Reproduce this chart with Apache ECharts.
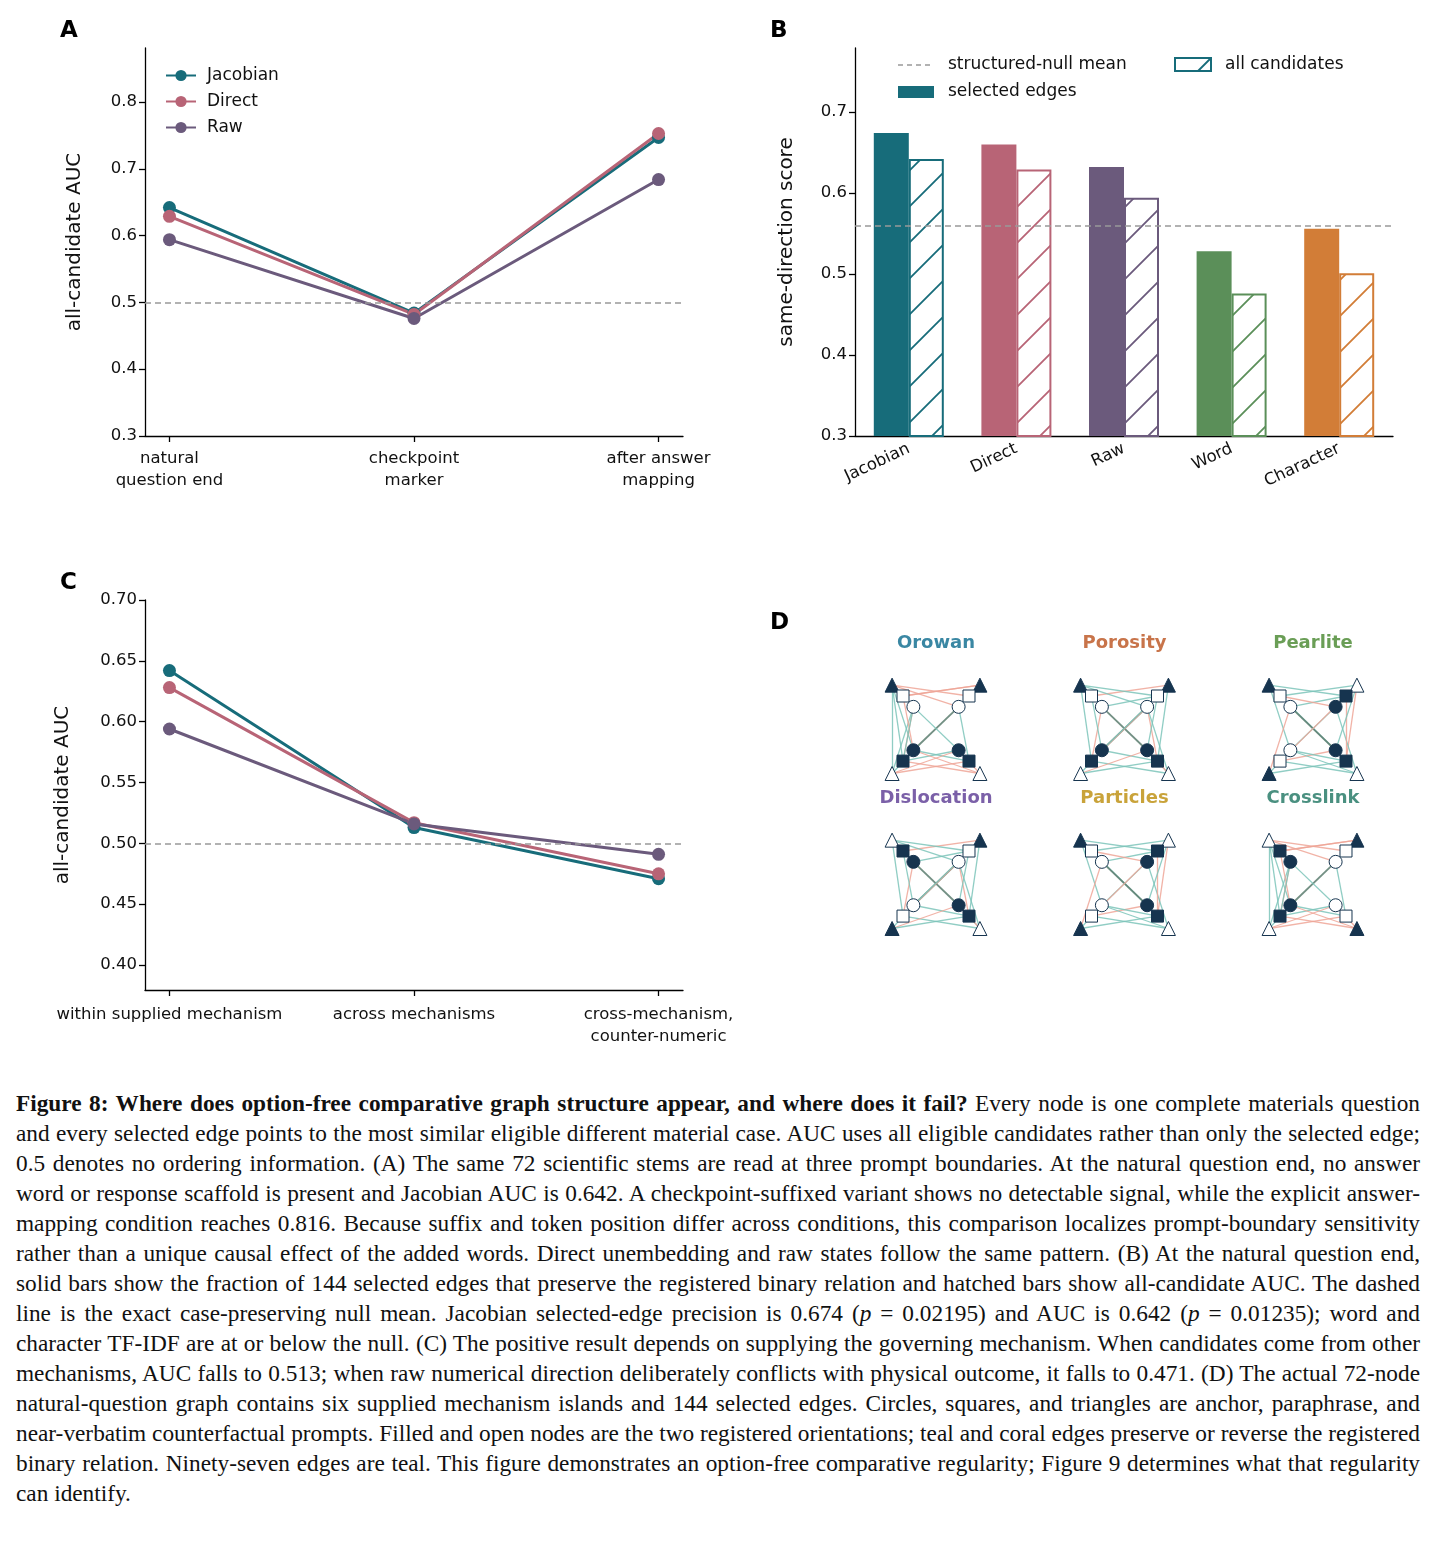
<!DOCTYPE html>
<html><head><meta charset="utf-8">
<script src="https://cdn.jsdelivr.net/npm/echarts@6/dist/echarts.min.js"></script>
<style>
body{margin:0;background:#fff;}
#chart{width:1440px;height:1080px;}
#cap{position:absolute;left:16px;top:1088px;width:1404px;font-family:"Liberation Serif",serif;font-size:23.3px;line-height:30px;text-align:justify;color:#111;}
</style></head><body>
<div id="chart"></div>
<div id="cap"><b>Figure 8: Where does option-free comparative graph structure appear, and where does it fail?</b> Every node is one complete materials question and every selected edge points to the most similar eligible different material case. AUC uses all eligible candidates rather than only the selected edge; 0.5 denotes no ordering information. (A) The same 72 scientific stems are read at three prompt boundaries. At the natural question end, no answer word or response scaffold is present and Jacobian AUC is 0.642. A checkpoint-suffixed variant shows no detectable signal, while the explicit answer-mapping condition reaches 0.816. Because suffix and token position differ across conditions, this comparison localizes prompt-boundary sensitivity rather than a unique causal effect of the added words. Direct unembedding and raw states follow the same pattern. (B) At the natural question end, solid bars show the fraction of 144 selected edges that preserve the registered binary relation and hatched bars show all-candidate AUC. The dashed line is the exact case-preserving null mean. Jacobian selected-edge precision is 0.674 (<i>p</i> = 0.02195) and AUC is 0.642 (<i>p</i> = 0.01235); word and character TF-IDF are at or below the null. (C) The positive result depends on supplying the governing mechanism. When candidates come from other mechanisms, AUC falls to 0.513; when raw numerical direction deliberately conflicts with physical outcome, it falls to 0.471. (D) The actual 72-node natural-question graph contains six supplied mechanism islands and 144 selected edges. Circles, squares, and triangles are anchor, paraphrase, and near-verbatim counterfactual prompts. Filled and open nodes are the two registered orientations; teal and coral edges preserve or reverse the registered binary relation. Ninety-seven edges are teal. This figure demonstrates an option-free comparative regularity; Figure 9 determines what that regularity can identify.</div>
<script>
var chart = echarts.init(document.getElementById('chart'));

// panel A
var boundaries = ['natural\nquestion end', 'checkpoint\nmarker', 'after answer\nmapping'];
var aJacobian = [0.642, 0.484, 0.747];
var aDirect = [0.629, 0.482, 0.753];
var aRaw = [0.594, 0.476, 0.684];
// panel B
var methods = ['Jacobian', 'Direct', 'Raw', 'Word', 'Character'];
var selectedEdges = [0.674, 0.660, 0.632, 0.528, 0.556];
var allCandidates = [0.642, 0.629, 0.594, 0.476, 0.501];
var nullMean = 0.555;
// panel C
var pools = ['within supplied mechanism', 'across mechanisms', 'cross-mechanism,\ncounter-numeric'];
var cJacobian = [0.642, 0.513, 0.471];
var cDirect = [0.628, 0.517, 0.475];
var cRaw = [0.594, 0.516, 0.491];
// panel D
var islands = ['Orowan', 'Porosity', 'Pearlite', 'Dislocation', 'Particles', 'Crosslink'];
var islandColors = ['#3a87a3', '#c8744a', '#6a9e56', '#7b60a8', '#c9a33a', '#4a9080'];
// node roles: TL/TR/BL/BR triangle, square, circle
var nodeShapes = ['triangle','triangle','triangle','triangle','rect','rect','rect','rect','circle','circle','circle','circle'];
var nodeDx = [-0.233, 0.233, -0.233, 0.233, -0.175, 0.175, -0.175, 0.175, -0.12, 0.12, -0.12, 0.12];
var nodeDy = [-0.27, -0.27, 0.30, 0.30, -0.2, -0.2, 0.22, 0.22, -0.13, -0.13, 0.15, 0.15];
var filled = [
  [1,1,0,0, 0,0,1,1, 0,0,1,1],
  [1,1,0,0, 0,0,1,1, 0,0,1,1],
  [1,0,1,0, 0,1,0,1, 0,1,0,1],
  [0,1,1,0, 1,0,0,1, 1,0,0,1],
  [1,0,1,0, 0,1,0,1, 0,1,0,1],
  [0,1,0,1, 1,0,1,0, 1,0,1,0]
];
// edges [source, target, kind]  kind: 0 teal, 1 coral, 2 dark
var edgesA = [[0,6,0],[0,2,0],[0,10,0],[8,6,1],[8,2,0],[4,10,1],[4,1,1],[0,5,1],[0,9,1],[1,4,1],[9,10,2],[8,11,0],[6,11,0],[10,7,0],[6,3,1],[2,7,1],[2,11,1],[10,3,1],[6,8,0],[1,5,0],[5,9,0],[3,11,1],[7,9,0],[2,10,0]];
var edgesB = [[0,6,0],[0,4,1],[8,11,2],[9,10,2],[8,6,1],[4,1,1],[5,0,0],[1,5,0],[1,7,0],[9,7,1],[5,11,0],[3,7,0],[6,3,0],[10,7,0],[2,6,0],[2,11,1],[4,10,0],[3,9,0],[0,9,0],[8,5,0],[6,9,1],[2,7,0],[10,1,0],[11,3,1]];
var edgesC = [[0,4,0],[0,10,0],[4,11,0],[8,11,2],[9,10,0],[1,9,0],[5,6,1],[1,7,1],[0,5,0],[4,1,0],[2,6,0],[2,7,0],[3,6,0],[6,11,1],[10,7,0],[8,5,0],[2,8,1],[3,9,0],[5,7,1],[6,10,0],[1,11,0],[4,9,1],[3,10,0],[7,11,0]];
var islandEdges = [edgesA, edgesB, edgesC, edgesB, edgesC, edgesA];
var edgeColors = ['#7cc4ba', '#eea698', '#5b7d6e'];

function hatch(color) {
  var c = document.createElement('canvas');
  c.width = 36; c.height = 36;
  var g = c.getContext('2d');
  g.fillStyle = '#fff'; g.fillRect(0, 0, 36, 36);
  g.strokeStyle = color; g.lineWidth = 1.8;
  g.beginPath();
  g.moveTo(-4, 40); g.lineTo(40, -4);
  g.moveTo(-22, 22); g.lineTo(22, -22);
  g.moveTo(14, 58); g.lineTo(58, 14);
  g.stroke();
  return {image: c, repeat: 'repeat'};
}

var colJ = '#176c7a', colD = '#b86476', colR = '#6b5a7c';
var barColors = ['#176c7a', '#b86476', '#6b5a7c', '#5b8f59', '#d27d37'];
var font = 'DejaVu Sans';
var axisLine = {onZero: false, lineStyle: {color: '#000', width: 1.3}};
var axisTick = {length: 6, lineStyle: {color: '#000', width: 1.3}};
var lbl = {color: '#111', fontSize: 16.5, fontFamily: font};
var nullLine = function (v) {
  return {silent: true, symbol: 'none', label: {show: false},
    lineStyle: {color: '#999', type: [6, 4], width: 1.5}, data: [{yAxis: v}]};
};
function lineSeries(name, vals, color, xi, ml) {
  var s = {name: name, type: 'line', xAxisIndex: xi, yAxisIndex: xi,
    data: vals.map(function (v, i) { return [i, v]; }),
    symbol: 'circle', symbolSize: 13, color: color,
    lineStyle: {width: 3, color: color}, itemStyle: {color: color}, z: 3};
  if (ml) s.markLine = nullLine(0.5);
  return s;
}

var dNodes = [], dLinks = [];
islands.forEach(function (name, k) {
  var cx = k % 3, cy = Math.floor(k / 3);
  var base = dNodes.length;
  nodeShapes.forEach(function (sh, i) {
    var f = filled[k][i];
    dNodes.push({value: [cx + nodeDx[i], cy + nodeDy[i]], symbol: sh,
      symbolSize: sh === 'triangle' ? 14 : (sh === 'rect' ? 12 : 13),
      itemStyle: {color: f ? '#16344f' : '#fff', borderColor: '#16344f', borderWidth: 1}});
  });
  islandEdges[k].forEach(function (e) {
    dLinks.push({source: base + e[0], target: base + e[1],
      lineStyle: {color: edgeColors[e[2]], width: e[2] === 2 ? 1.8 : 1.3, opacity: 0.85}});
  });
});

var graphic = [];
[['A', 60, 20], ['B', 770, 20], ['C', 60, 572], ['D', 770, 612]].forEach(function (p) {
  graphic.push({type: 'text', left: p[1], top: p[2], style: {text: p[0], font: 'bold 23px ' + font, fill: '#000'}});
});
islands.forEach(function (name, k) {
  graphic.push({type: 'text', x: 936 + (k % 3) * 188.5, y: 643 + Math.floor(k / 3) * 155,
    style: {text: name, font: 'bold 18px ' + font, fill: islandColors[k], align: 'center', verticalAlign: 'middle'}});
});
graphic.push(
  {type: 'line', shape: {x1: 898, y1: 65, x2: 934, y2: 65}, style: {stroke: '#999', lineWidth: 1.5, lineDash: [5, 4]}},
  {type: 'text', x: 948, y: 65, style: {text: 'structured-null mean', font: '17px ' + font, fill: '#111', verticalAlign: 'middle'}},
  {type: 'rect', shape: {x: 898, y: 86, width: 36, height: 12}, style: {fill: colJ}},
  {type: 'text', x: 948, y: 92, style: {text: 'selected edges', font: '17px ' + font, fill: '#111', verticalAlign: 'middle'}},
  {type: 'rect', shape: {x: 1175, y: 58, width: 36, height: 13}, style: {fill: '#fff', stroke: colJ, lineWidth: 2}},
  {type: 'line', shape: {x1: 1198, y1: 71, x2: 1210, y2: 59}, style: {stroke: colJ, lineWidth: 1.8}},
  {type: 'text', x: 1225, y: 65, style: {text: 'all candidates', font: '17px ' + font, fill: '#111', verticalAlign: 'middle'}}
);

var option = {
  animation: false,
  textStyle: {fontFamily: font},
  graphic: graphic,
  legend: {data: ['Jacobian', 'Direct', 'Raw'], orient: 'vertical', left: 160, top: 62, itemGap: 9,
    itemWidth: 30, itemHeight: 14, textStyle: {fontSize: 17, color: '#111', fontFamily: font, padding: [0, 0, 0, 6]}},
  grid: [
    {left: 145, top: 48, width: 538, height: 388},
    {left: 855, top: 48, width: 538, height: 388},
    {left: 145, top: 600, width: 538, height: 390},
    {left: 841.75, top: 649.5, width: 565.5, height: 310}
  ],
  xAxis: [
    {gridIndex: 0, type: 'value', min: -0.1, max: 2.1, splitLine: {show: false}, axisLine: axisLine, axisTick: Object.assign({customValues: [0, 1, 2]}, axisTick),
      axisLabel: Object.assign({customValues: [0, 1, 2], formatter: function (v) { return boundaries[v]; }, lineHeight: 22, margin: 12}, lbl)},
    {gridIndex: 1, type: 'category', data: methods, axisLine: axisLine, axisTick: Object.assign({alignWithLabel: true}, axisTick),
      axisLabel: Object.assign({rotate: 25, margin: 12, interval: 0}, lbl)},
    {gridIndex: 2, type: 'value', min: -0.1, max: 2.1, splitLine: {show: false}, axisLine: axisLine, axisTick: Object.assign({customValues: [0, 1, 2]}, axisTick),
      axisLabel: Object.assign({customValues: [0, 1, 2], formatter: function (v) { return pools[v]; }, lineHeight: 22, margin: 14}, lbl)},
    {gridIndex: 3, type: 'value', min: -0.5, max: 2.5, show: false}
  ],
  yAxis: [
    {gridIndex: 0, type: 'value', min: 0.3, max: 0.881, splitLine: {show: false}, axisLine: Object.assign({show: true}, axisLine),
      axisTick: Object.assign({show: true, customValues: [0.3, 0.4, 0.5, 0.6, 0.7, 0.8]}, axisTick),
      axisLabel: Object.assign({customValues: [0.3, 0.4, 0.5, 0.6, 0.7, 0.8], formatter: function (v) { return v.toFixed(1); }}, lbl),
      name: 'all-candidate AUC', nameLocation: 'middle', nameGap: 60, nameTextStyle: {fontSize: 20, color: '#111', fontFamily: font}},
    {gridIndex: 1, type: 'value', min: 0.3, max: 0.779, splitLine: {show: false}, axisLine: Object.assign({show: true}, axisLine),
      axisTick: Object.assign({show: true, customValues: [0.3, 0.4, 0.5, 0.6, 0.7]}, axisTick),
      axisLabel: Object.assign({customValues: [0.3, 0.4, 0.5, 0.6, 0.7], formatter: function (v) { return v.toFixed(1); }}, lbl),
      name: 'same-direction score', nameLocation: 'middle', nameGap: 58, nameTextStyle: {fontSize: 20, color: '#111', fontFamily: font}},
    {gridIndex: 2, type: 'value', min: 0.3795, max: 0.7, splitLine: {show: false}, axisLine: Object.assign({show: true}, axisLine),
      axisTick: Object.assign({show: true, customValues: [0.4, 0.45, 0.5, 0.55, 0.6, 0.65, 0.7]}, axisTick),
      axisLabel: Object.assign({customValues: [0.4, 0.45, 0.5, 0.55, 0.6, 0.65, 0.7], formatter: function (v) { return v.toFixed(2); }}, lbl),
      name: 'all-candidate AUC', nameLocation: 'middle', nameGap: 72, nameTextStyle: {fontSize: 20, color: '#111', fontFamily: font}},
    {gridIndex: 3, type: 'value', min: -0.5, max: 1.5, inverse: true, show: false}
  ],
  series: [
    lineSeries('Jacobian', aJacobian, colJ, 0, true),
    lineSeries('Direct', aDirect, colD, 0),
    lineSeries('Raw', aRaw, colR, 0),
    {name: 'selected edges', type: 'bar', xAxisIndex: 1, yAxisIndex: 1, barWidth: 35, barGap: '0%',
      data: selectedEdges.map(function (v, i) { return {value: v, itemStyle: {color: barColors[i]}}; }),
      markLine: nullLine(nullMean)},
    {name: 'all candidates', type: 'bar', xAxisIndex: 1, yAxisIndex: 1, barWidth: 35,
      data: allCandidates.map(function (v, i) {
        return {value: v, itemStyle: {color: hatch(barColors[i]), borderColor: barColors[i], borderWidth: 2}};
      })},
    lineSeries('Jacobian', cJacobian, colJ, 2, true),
    lineSeries('Direct', cDirect, colD, 2),
    lineSeries('Raw', cRaw, colR, 2),
    {type: 'graph', coordinateSystem: 'cartesian2d', xAxisIndex: 3, yAxisIndex: 3,
      data: dNodes, links: dLinks, silent: true, z: 2}
  ]
};
chart.setOption(option);
</script>
</body></html>
